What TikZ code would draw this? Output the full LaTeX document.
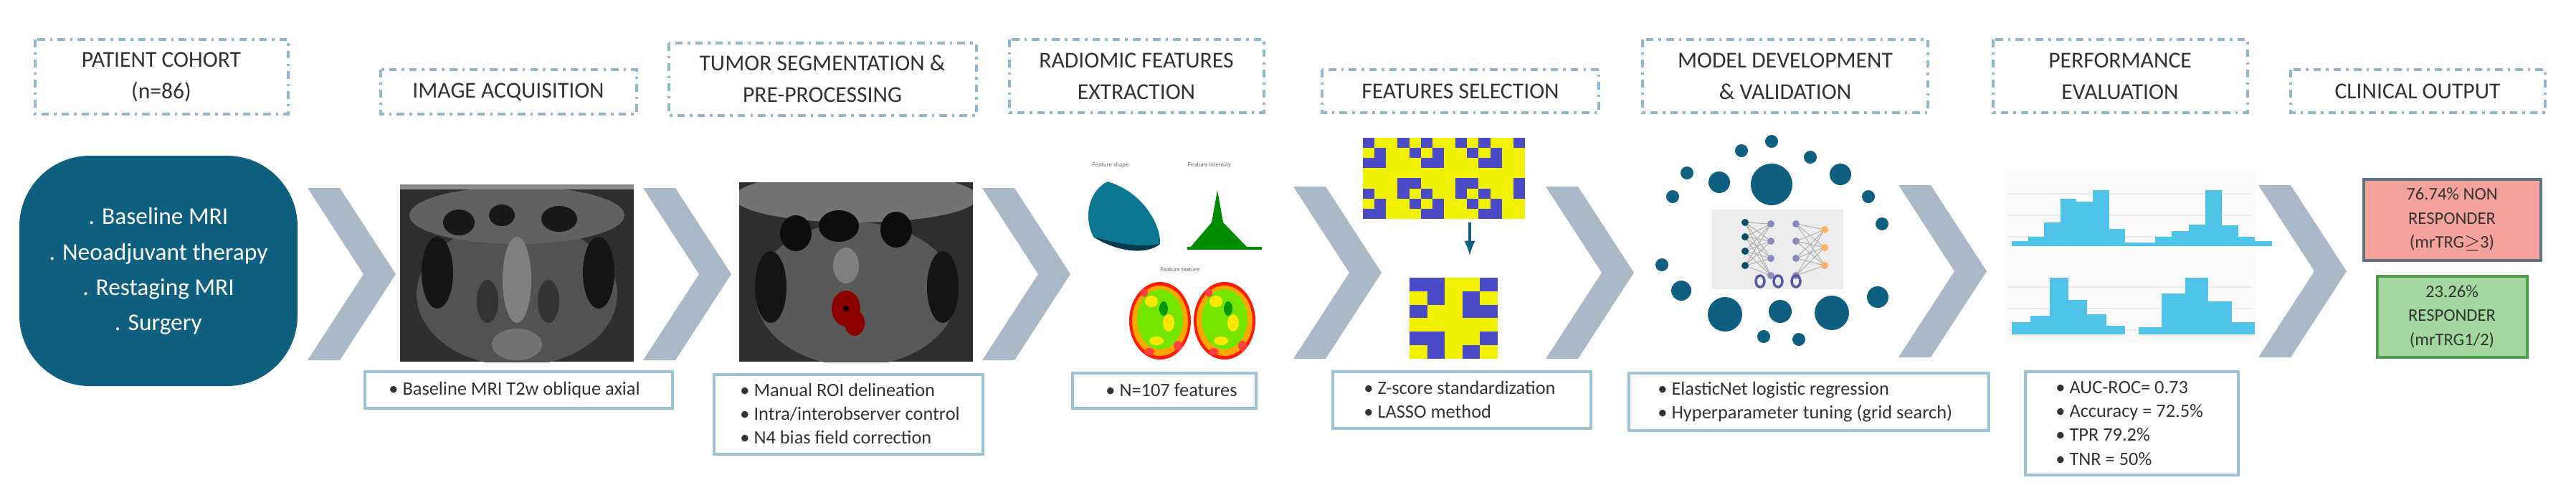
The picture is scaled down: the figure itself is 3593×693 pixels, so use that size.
\documentclass[tikz,border=0pt]{standalone}
\usepackage{fontspec}
\setmainfont{Carlito}
\begin{document}
\begin{tikzpicture}[x=0.01cm,y=-0.01cm]
\definecolor{dblue}{HTML}{0E5F80}
\definecolor{chevc}{HTML}{A9B9C7}
\definecolor{tline}{HTML}{8FB8CC}
\definecolor{bline}{HTML}{9CC3D5}
\definecolor{hblue}{HTML}{4FC3E8}
\definecolor{hmy}{HTML}{F0F000}
\definecolor{hmb}{HTML}{4B4BC8}
\definecolor{salmon}{HTML}{F4A29B}
\definecolor{lgreen}{HTML}{A3D8A0}
\tikzset{
 tbox/.style={draw=tline,line width=1.2pt,dash pattern=on 3pt off 2pt on 1pt off 2pt},
 ttext/.style={align=center,font=\fontsize{9}{12.5}\selectfont,text=black!80},
 bbox/.style={draw=bline,line width=1pt},
 btext/.style={align=left,anchor=west,font=\fontsize{7.5}{9.4}\selectfont,text=black!80},
 chev/.style={fill=chevc},
 tiny/.style={font=\fontsize{2.5}{3}\selectfont,text=black!60},
}
\newcommand\chevron[2]{\fill[chev] (#1,#2-120) -- ({#1+45},#2-120) -- ({#1+123},#2) -- ({#1+45},#2+120) -- (#1,#2+120) -- ({#1+78},#2) -- cycle;}
\useasboundingbox (0,0) rectangle (3593,693);
\fill[white] (0,0) rectangle (3593,693);
% titles
\draw[tbox] (49,55) rectangle (402,159);
\node[ttext] (t1) at (225,107) {PATIENT COHORT\\(n=86)};
\draw[tbox] (531,97) rectangle (888,159);
\node[ttext] (t2) at (709,128) {IMAGE ACQUISITION};
\draw[tbox] (933,60) rectangle (1362,161);
\node[ttext] (t3) at (1147,110) {TUMOR SEGMENTATION \&\\PRE-PROCESSING};
\draw[tbox] (1408,55) rectangle (1763,157);
\node[ttext] (t4) at (1585,106) {RADIOMIC FEATURES\\EXTRACTION};
\draw[tbox] (1844,97) rectangle (2230,157);
\node[ttext] (t5) at (2037,127) {FEATURES SELECTION};
\draw[tbox] (2291,55) rectangle (2689,157);
\node[ttext] (t6) at (2490,106) {MODEL DEVELOPMENT\\\& VALIDATION};
\draw[tbox] (2780,55) rectangle (3135,157);
\node[ttext] (t7) at (2957,106) {PERFORMANCE\\EVALUATION};
\draw[tbox] (3195,97) rectangle (3550,157);
\node[ttext] (t8) at (3372,127) {CLINICAL OUTPUT};
% patient box
\fill[dblue,rounded corners=28pt] (27,217) rectangle (415,538);
\node[align=center,text=white,font=\fontsize{9.5}{14}\selectfont] (pc) at (221,378) {. Baseline MRI\\. Neoadjuvant therapy\\. Restaging MRI\\. Surgery};
% chevrons
\chevron{429}{382}
\chevron{897}{382}
\chevron{1370}{382}
\chevron{1804}{380}
\chevron{2156}{380}
\chevron{2648}{378}
\chevron{3150}{378}
% MRI 1
\begin{scope}
\clip (558,257) rectangle (884,504);
\fill[black!82] (558,257) rectangle (884,504);
\fill[black!68] (721,410) ellipse (140 and 100);
\fill[black!62] (721,300) ellipse (150 and 40);
\fill[black!90] (640,310) ellipse (22 and 18);
\fill[black!90] (700,300) ellipse (18 and 15);
\fill[black!90] (780,305) ellipse (25 and 18);
\fill[black!92] (610,380) ellipse (22 and 50);
\fill[black!92] (835,380) ellipse (22 and 50);
\fill[black!50] (721,390) ellipse (20 and 60);
\fill[black!80] (680,420) ellipse (15 and 30);
\fill[black!80] (765,420) ellipse (15 and 30);
\fill[black!55] (721,480) ellipse (35 and 22);
\fill[black!45] (558,257) rectangle (884,264);
\end{scope}
% MRI 2
\begin{scope}
\clip (1031,254) rectangle (1357,504);
\fill[black!82] (1031,254) rectangle (1357,504);
\fill[black!65] (1194,410) ellipse (140 and 100);
\fill[black!55] (1194,275) ellipse (170 and 35);
\fill[black!95] (1110,325) ellipse (22 and 25);
\fill[black!95] (1170,315) ellipse (28 and 22);
\fill[black!95] (1250,320) ellipse (22 and 25);
\fill[black!92] (1075,400) ellipse (22 and 50);
\fill[black!92] (1315,400) ellipse (22 and 50);
\fill[black!50] (1180,370) ellipse (18 and 25);
\fill[red!55!black] (1180,430) ellipse (20 and 25);
\fill[red!55!black] (1192,450) ellipse (14 and 18);
\fill[black] (1180,430) circle (4);
\end{scope}
% radiomic picture
\node[tiny] (fs) at (1549,230) {Feature shape};
\node[tiny] (fi) at (1687,230) {Feature intensity};
\node[tiny] (ft) at (1646,376) {Feature texture};
\fill[dblue!85!cyan] (1545,253) .. controls (1600,270) and (1620,320) .. (1618,340) .. controls (1600,355) and (1560,352) .. (1525,330) .. controls (1510,300) and (1520,265) .. (1545,253) -- cycle;
\fill[black!40!dblue] (1525,330) .. controls (1560,340) and (1590,345) .. (1618,340) .. controls (1600,355) and (1560,352) .. (1525,330) -- cycle;
\fill[green!55!black] (1660,345) -- (1690,310) -- (1698,265) -- (1706,310) -- (1740,345) -- cycle;
\draw[green!55!black,line width=1pt] (1656,346) -- (1760,346);
\foreach \cx in {1618,1708} {
 \fill[red!80!orange] (\cx,447) ellipse (43 and 54);
 \fill[orange!70!yellow] (\cx,447) ellipse (39 and 49);
 \fill[green!50!yellow!90!black] (\cx,445) ellipse (32 and 42);
 \fill[yellow!90!orange] (\cx-12,420) ellipse (9 and 8);
 \fill[yellow!90!orange] (\cx+12,450) ellipse (8 and 12);
 \fill[yellow!90!orange] (\cx-5,475) ellipse (10 and 6);
 \fill[green!60!black] (\cx+5,430) ellipse (6 and 10);
 \fill[red!75] (\cx+25,482) ellipse (6 and 7);
 \fill[red!75] (\cx-22,408) ellipse (5 and 6);
 \fill[red!75] (\cx-15,490) ellipse (7 and 5);
}
% heatmaps
\foreach \i in {0,...,13} {\foreach \j in {0,...,7} {
 \pgfmathparse{mod(\i*7+\j*3+\i*\j,5)<2 ? 1 : 0}
 \ifnum\pgfmathresult=1 \def\cc{hmb}\else\def\cc{hmy}\fi
 \fill[\cc] ({1901+\i*16.14},{192+\j*14.1}) rectangle ({1901+(\i+1)*16.14},{192+(\j+1)*14.1});
}}
\coordinate (ha) at (2050,310);
\coordinate (hb) at (2050,356);
\draw[-latex,dblue,line width=1pt] (ha) -- (hb);
\foreach \i in {0,...,4} {\foreach \j in {0,...,5} {
 \pgfmathparse{mod(\i*5+\j*2+\i*\j,4)<2 ? 1 : 0}
 \ifnum\pgfmathresult=1 \def\cc{hmb}\else\def\cc{hmy}\fi
 \fill[\cc] ({1966+\i*24.6},{387+\j*18.8}) rectangle ({1966+(\i+1)*24.6},{387+(\j+1)*18.8});
}}
% model circles
\foreach \x/\y/\r in {2471/197/9,2429/210/9,2525/219/9,2353/241/9,2398/254/15,2471/257/29,2567/243/15,2333/274/9,2318/369/9,2345/405/14,2406/438/24,2483/434/16,2555/436/24,2460/469/9,2509/473/9,2606/274/9,2625/312/9,2619/414/15}
 \fill[dblue] (\x,\y) circle (\r);
\fill[black!7] (2387,292) rectangle (2571,403);
\foreach \ya in {310,330,350,370} {\foreach \yb in {312,336,360,384} \draw[black!30,line width=0.3pt] (2434,\ya) -- (2470,\yb);}
\foreach \ya in {312,336,360,384} {\foreach \yb in {320,345,370} \draw[black!30,line width=0.3pt] (2505,\ya) -- (2545,\yb);}
\foreach \y in {310,330,350,370} \fill[dblue!80!black] (2434,\y) circle (5);
\foreach \y in {312,336,360,384} {\fill[blue!30!gray!70] (2470,\y) circle (5); \fill[blue!30!gray!70] (2505,\y) circle (5);}
\foreach \y in {320,345,370} \fill[orange!60] (2545,\y) circle (5);
\foreach \x in {2455,2480,2505} \draw[blue!30!gray,line width=1pt] (\x,392) ellipse (6 and 8);
% histograms
\fill[black!2] (2796,239) rectangle (3145,478);
\foreach \y in {270,300,330,400,430,460} \draw[black!8,line width=0.3pt] (2800,\y) -- (3140,\y);
\newcommand\hist[4]{\foreach \t [count=\i] in {#4} \fill[hblue] ({#1+(\i-1)*#2},#3) rectangle ({#1+\i*#2},\t);}
\hist{2806}{22.6}{343}{336,330,310,277,281,265,319,338}
\hist{2983}{23.2}{343}{338,330,322,313,265,314,330,336}
\hist{2806}{26.3}{466}{449,440,387,418,438,454}
\hist{2983}{32.4}{466}{456,409,387,420,449}
% clinical output
\draw[fill=salmon,draw=bline!60!black,line width=1pt] (3297,250) rectangle (3544,363);
\node[align=center,font=\fontsize{7}{9.5}\selectfont,text=black!80] (nr) at (3420,306) {76.74\% NON\\RESPONDER\\(mrTRG\ensuremath{\geq}3)};
\draw[fill=lgreen,draw=green!45!black!70,line width=1pt] (3316,385) rectangle (3525,498);
\node[align=center,font=\fontsize{7}{9.5}\selectfont,text=black!80] (rr) at (3420,441) {23.26\%\\RESPONDER\\(mrTRG1/2)};
% bullet boxes
\draw[bbox] (509,518) rectangle (938,569);
\node[btext] (b1) at (530,543) {• Baseline MRI T2w oblique axial};
\draw[bbox] (996,522) rectangle (1371,633);
\node[btext] (b2) at (1020,576) {• Manual ROI delineation\\• Intra/interobserver control\\• N4 bias field correction};
\draw[bbox] (1496,520) rectangle (1752,569);
\node[btext] (b3) at (1530,544) {• N=107 features};
\draw[bbox] (1859,518) rectangle (2219,597);
\node[btext] (b4) at (1890,557) {• Z-score standardization\\• LASSO method};
\draw[bbox] (2272,520) rectangle (2774,600);
\node[btext] (b5) at (2300,560) {• ElasticNet logistic regression\\• Hyperparameter tuning (grid search)};
\draw[bbox] (2825,518) rectangle (3122,662);
\node[btext] (b6) at (2855,590) {• AUC-ROC= 0.73\\• Accuracy = 72.5\%\\• TPR 79.2\%\\• TNR = 50\%};
\end{tikzpicture}
\end{document}
